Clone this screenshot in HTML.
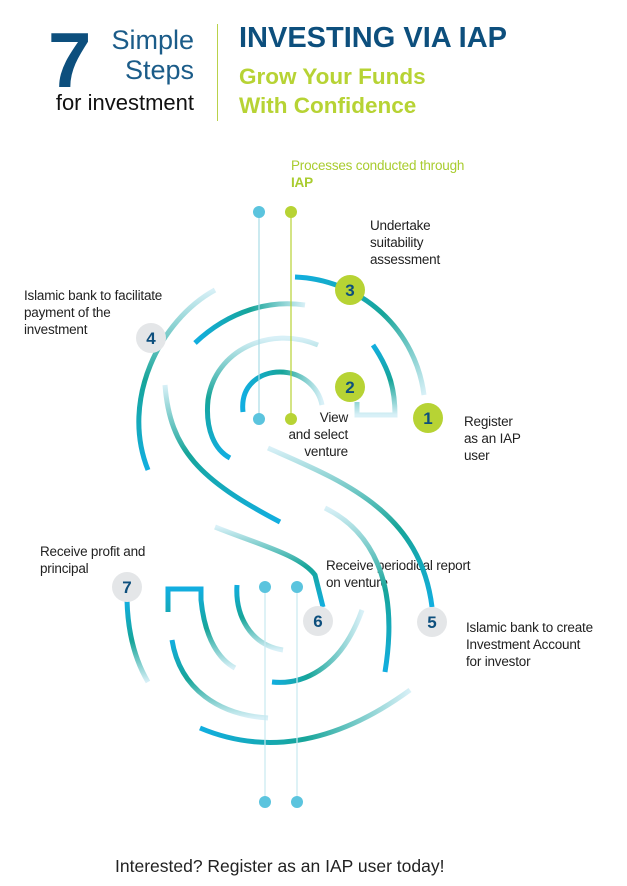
<!DOCTYPE html><html><head><meta charset="utf-8"><style>
body{margin:0;background:#fff;width:627px;height:886px;overflow:hidden;font-family:"Liberation Sans",sans-serif}
.t{position:absolute;font-size:13.5px;line-height:17px;color:#222;letter-spacing:-0.2px}
</style></head><body>
<div style="position:absolute;left:48px;top:20px;font-size:78px;font-weight:bold;color:#0d4f7d;line-height:80px">7</div>
<div style="position:absolute;left:96px;top:25px;font-size:27px;color:#1b5c89;text-align:right;width:98px;line-height:30px">Simple<br>Steps</div>
<div style="position:absolute;left:40px;top:90px;font-size:22px;color:#111;width:154px;text-align:right">for investment</div>
<div style="position:absolute;left:217px;top:24px;width:1px;height:97px;background:#b9d24a"></div>
<div style="position:absolute;left:239px;top:22px;font-size:29px;font-weight:bold;color:#0d4f7d">INVESTING VIA IAP</div>
<div style="position:absolute;left:239px;top:62px;font-size:22.5px;font-weight:bold;color:#b7d334;line-height:29px">Grow Your Funds<br>With Confidence</div>
<div class="t" style="left:291px;top:157px;color:#a9cc2f">Processes conducted through<br><b>IAP</b></div>
<div class="t" style="left:370px;top:217px">Undertake<br>suitability<br>assessment</div>
<div class="t" style="left:24px;top:287px">Islamic bank to facilitate<br>payment of the<br>investment</div>
<div class="t" style="left:464px;top:413px">Register<br>as an IAP<br>user</div>
<div class="t" style="left:280px;top:409px;text-align:right;width:68px">View<br>and select<br>venture</div>
<div class="t" style="left:40px;top:543px">Receive profit and<br>principal</div>
<div class="t" style="left:326px;top:557px">Receive periodical report<br>on venture</div>
<div class="t" style="left:466px;top:619px">Islamic bank to create<br>Investment Account<br>for investor</div>
<div style="position:absolute;left:115px;top:856px;font-size:17.5px;color:#222;white-space:nowrap">Interested? Register as an IAP user today!</div>
<svg width="627" height="886" style="position:absolute;left:0;top:0">
<defs>
<linearGradient id="g1" x1="0" y1="0" x2="1" y2="1"><stop offset="0" stop-color="#12aee0"/><stop offset=".5" stop-color="#17a59a"/><stop offset="1" stop-color="#d8f0f7"/></linearGradient>
<linearGradient id="g2" x1="0" y1="0" x2="0" y2="1"><stop offset="0" stop-color="#d8f0f7"/><stop offset=".5" stop-color="#17a59a"/><stop offset="1" stop-color="#12aee0"/></linearGradient>
<linearGradient id="g3" x1="1" y1="0" x2="0" y2="0"><stop offset="0" stop-color="#d8f0f7"/><stop offset=".6" stop-color="#17a59a"/><stop offset="1" stop-color="#12aee0"/></linearGradient>
<linearGradient id="g4" x1="0" y1="0" x2="1" y2="0"><stop offset="0" stop-color="#12aee0"/><stop offset=".5" stop-color="#17a59a"/><stop offset="1" stop-color="#d8f0f7"/></linearGradient>
<linearGradient id="g5" x1="0" y1="0" x2="0" y2="1"><stop offset="0" stop-color="#12aee0"/><stop offset=".5" stop-color="#17a59a"/><stop offset="1" stop-color="#d8f0f7"/></linearGradient>
</defs>
<g fill="none" stroke-width="5" stroke-linecap="butt">
<path d="M295,277 A135,135 0 0 1 424,395" stroke="url(#g1)"/>
<path d="M215,290 C160,320 120,400 148,470" stroke="url(#g2)"/>
<path d="M195,343 C230,310 270,300 305,305" stroke="url(#g4)"/>
<path d="M318,345 C270,325 215,350 208,400 C205,430 215,450 230,458" stroke="url(#g2)"/>
<path d="M243,412 C240,385 260,372 280,372 C300,372 318,385 322,405" stroke="url(#g4)"/>
<path d="M373,345 C390,370 395,390 395,415 L357,415 L357,402" stroke="url(#g5)"/>
<path d="M165,385 C170,450 200,480 280,522" stroke="url(#g2)"/>
<path d="M215,527 C260,545 300,555 315,575 L323,607" stroke="url(#g2)"/>
<path d="M268,448 C340,480 420,510 432,607" stroke="url(#g2)"/>
<path d="M325,508 C370,530 400,580 385,672" stroke="url(#g2)"/>
<path d="M200,728 Q300,770 410,690" stroke="url(#g4)"/>
<path d="M127,600 C128,640 138,665 148,682" stroke="url(#g5)"/>
<path d="M168,612 L168,589 L201,589 L201,600 C205,640 220,660 235,668" stroke="url(#g5)"/>
<path d="M172,640 C180,690 220,715 268,718" stroke="url(#g5)"/>
<path d="M237,585 C235,615 250,645 283,650" stroke="url(#g5)"/>
<path d="M272,682 C300,685 340,672 362,610" stroke="url(#g3)"/>
</g>
<g stroke-width="1.2">
<line x1="259" y1="212" x2="259" y2="419" stroke="#a9dbe6"/>
<line x1="291" y1="212" x2="291" y2="419" stroke="#b7d334"/>
<line x1="265" y1="587" x2="265" y2="802" stroke="#c9e9f1"/>
<line x1="297" y1="587" x2="297" y2="802" stroke="#c9e9f1"/>
</g>
<g fill="#5bc4de"><circle cx="259" cy="212" r="6"/><circle cx="259" cy="419" r="6"/><circle cx="265" cy="587" r="6"/><circle cx="297" cy="587" r="6"/><circle cx="265" cy="802" r="6"/><circle cx="297" cy="802" r="6"/></g>
<g fill="#b7d334"><circle cx="291" cy="212" r="6"/><circle cx="291" cy="419" r="6"/><circle cx="428" cy="418" r="15"/><circle cx="350" cy="387" r="15"/><circle cx="350" cy="290" r="15"/></g>
<g fill="#e4e6e8"><circle cx="151" cy="338" r="15"/><circle cx="432" cy="622" r="15"/><circle cx="318" cy="621" r="15"/><circle cx="127" cy="587" r="15"/></g>
<g font-family="Liberation Sans,sans-serif" font-size="17" font-weight="bold" fill="#0d4f7d" text-anchor="middle">
<text x="428" y="424">1</text><text x="350" y="393">2</text><text x="350" y="296">3</text><text x="151" y="344">4</text><text x="432" y="628">5</text><text x="318" y="627">6</text><text x="127" y="593">7</text>
</g>
</svg>
</body></html>
